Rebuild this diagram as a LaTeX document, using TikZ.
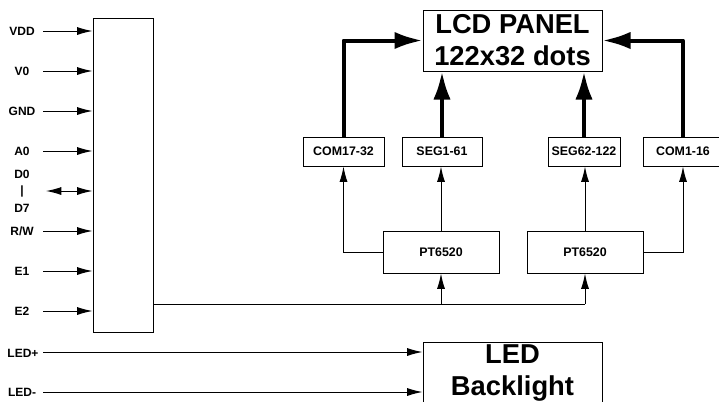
\documentclass[tikz,border=0pt]{standalone}
\usepackage{fontspec}
\setmainfont{Liberation Sans}
\usetikzlibrary{arrows.meta}

\tikzset{every picture/.style={line width=0.75pt}}

\begin{document}
\begin{tikzpicture}[
                x=0.75pt,
                y=0.75pt,
                yscale=-1,
                xscale=1,
                every node/.style={text=black},
                line width=0.75pt,
                pinlbl/.style={font=\fontsize{9}{10}\selectfont\bfseries, inner sep=0.75pt},
                chipbox/.style={draw, inner sep=0pt, font=\fontsize{9.3}{10}\selectfont\bfseries},
                bigbox/.style={draw, inner sep=0pt, align=center, font=\fontsize{20.5}{24}\selectfont\bfseries},
                sig/.style={-{Latex[length=11.5pt,width=6pt]}},
                fat/.style={line width=3pt, line join=round, -{Latex[length=21pt,width=13pt]}}
            ]
                \useasboundingbox (0,0) rectangle (719,401);

                % interface block
                \node [draw, minimum width=45pt, minimum height=235.5pt] (ctrl) at (123,175) {};

                % pins
                \foreach \py/\pname in {31/VDD, 71/V0, 111/GND, 151/A0, 231/R\slash W, 271/E1, 311/E2} {
                    \node [pinlbl] (pin\py) at (22,\py) {\pname};
                    \coordinate (in\py) at (43,\py);
                    \draw [sig] (in\py) -- (in\py -| ctrl.west);
                }
                \node [pinlbl] (d0) at (22,174) {D0};
                \node [pinlbl] (dbar) at (22,191) {|};
                \node [pinlbl] (d7) at (22,208) {D7};
                \coordinate (din) at (46,191);
                \draw [{Latex[length=11.5pt,width=6pt]}-{Latex[length=11.5pt,width=6pt]}] (din) -- (din -| ctrl.west);

                % panel and drivers
                \node [bigbox, minimum width=134.25pt, minimum height=45.75pt] (lcd) at (512.5,40.5) {LCD PANEL\\122x32 dots};
                \node [chipbox, minimum width=60.75pt, minimum height=21.75pt] (com2) at (343.5,151.5) {COM17-32};
                \node [chipbox, minimum width=60pt, minimum height=21.75pt] (seg1) at (442,151.5) {SEG1-61};
                \node [chipbox, minimum width=54pt, minimum height=21.75pt] (seg2) at (584,151.5) {SEG62-122};
                \node [chipbox, minimum width=60pt, minimum height=21.75pt] (com1) at (683,151.5) {COM1-16};
                \node [chipbox, minimum width=87pt, minimum height=31.5pt] (pt1) at (441,252) {PT6520};
                \node [chipbox, minimum width=87pt, minimum height=31.5pt] (pt2) at (585,252) {PT6520};

                \draw [fat] (com2.north) |- (lcd.west);
                \draw [fat] (seg1.north) -- (seg1.north |- lcd.south);
                \draw [fat] (seg2.north) -- (seg2.north |- lcd.south);
                \draw [fat] (com1.north) |- (lcd.east);

                \draw [sig] (pt1.west) -| (com2.south);
                \draw [sig] (pt1.north) -- (pt1.north |- seg1.south);
                \draw [sig] (pt2.north) -- (pt2.north |- seg2.south);
                \draw [sig] (pt2.east) -| (com1.south);

                % enable line
                \coordinate (etap) at (153,304);
                \draw (etap) -- (etap -| pt2.south);
                \draw [sig] (etap -| pt1.south) -- (pt1.south);
                \draw [sig] (etap -| pt2.south) -- (pt2.south);

                % backlight
                \node [bigbox, minimum width=134.25pt, minimum height=46.5pt] (led) at (512.5,373) {LED\\Backlight};
                \node [pinlbl] (ledp) at (23,353) {LED+};
                \node [pinlbl] (ledm) at (22,392) {LED-};
                \coordinate (ledpin) at (43,352);
                \coordinate (ledmin) at (43,392);
                \draw [sig] (ledpin) -- (ledpin -| led.west);
                \draw [sig] (ledmin) -- (ledmin -| led.west);
            \end{tikzpicture}
\end{document}
